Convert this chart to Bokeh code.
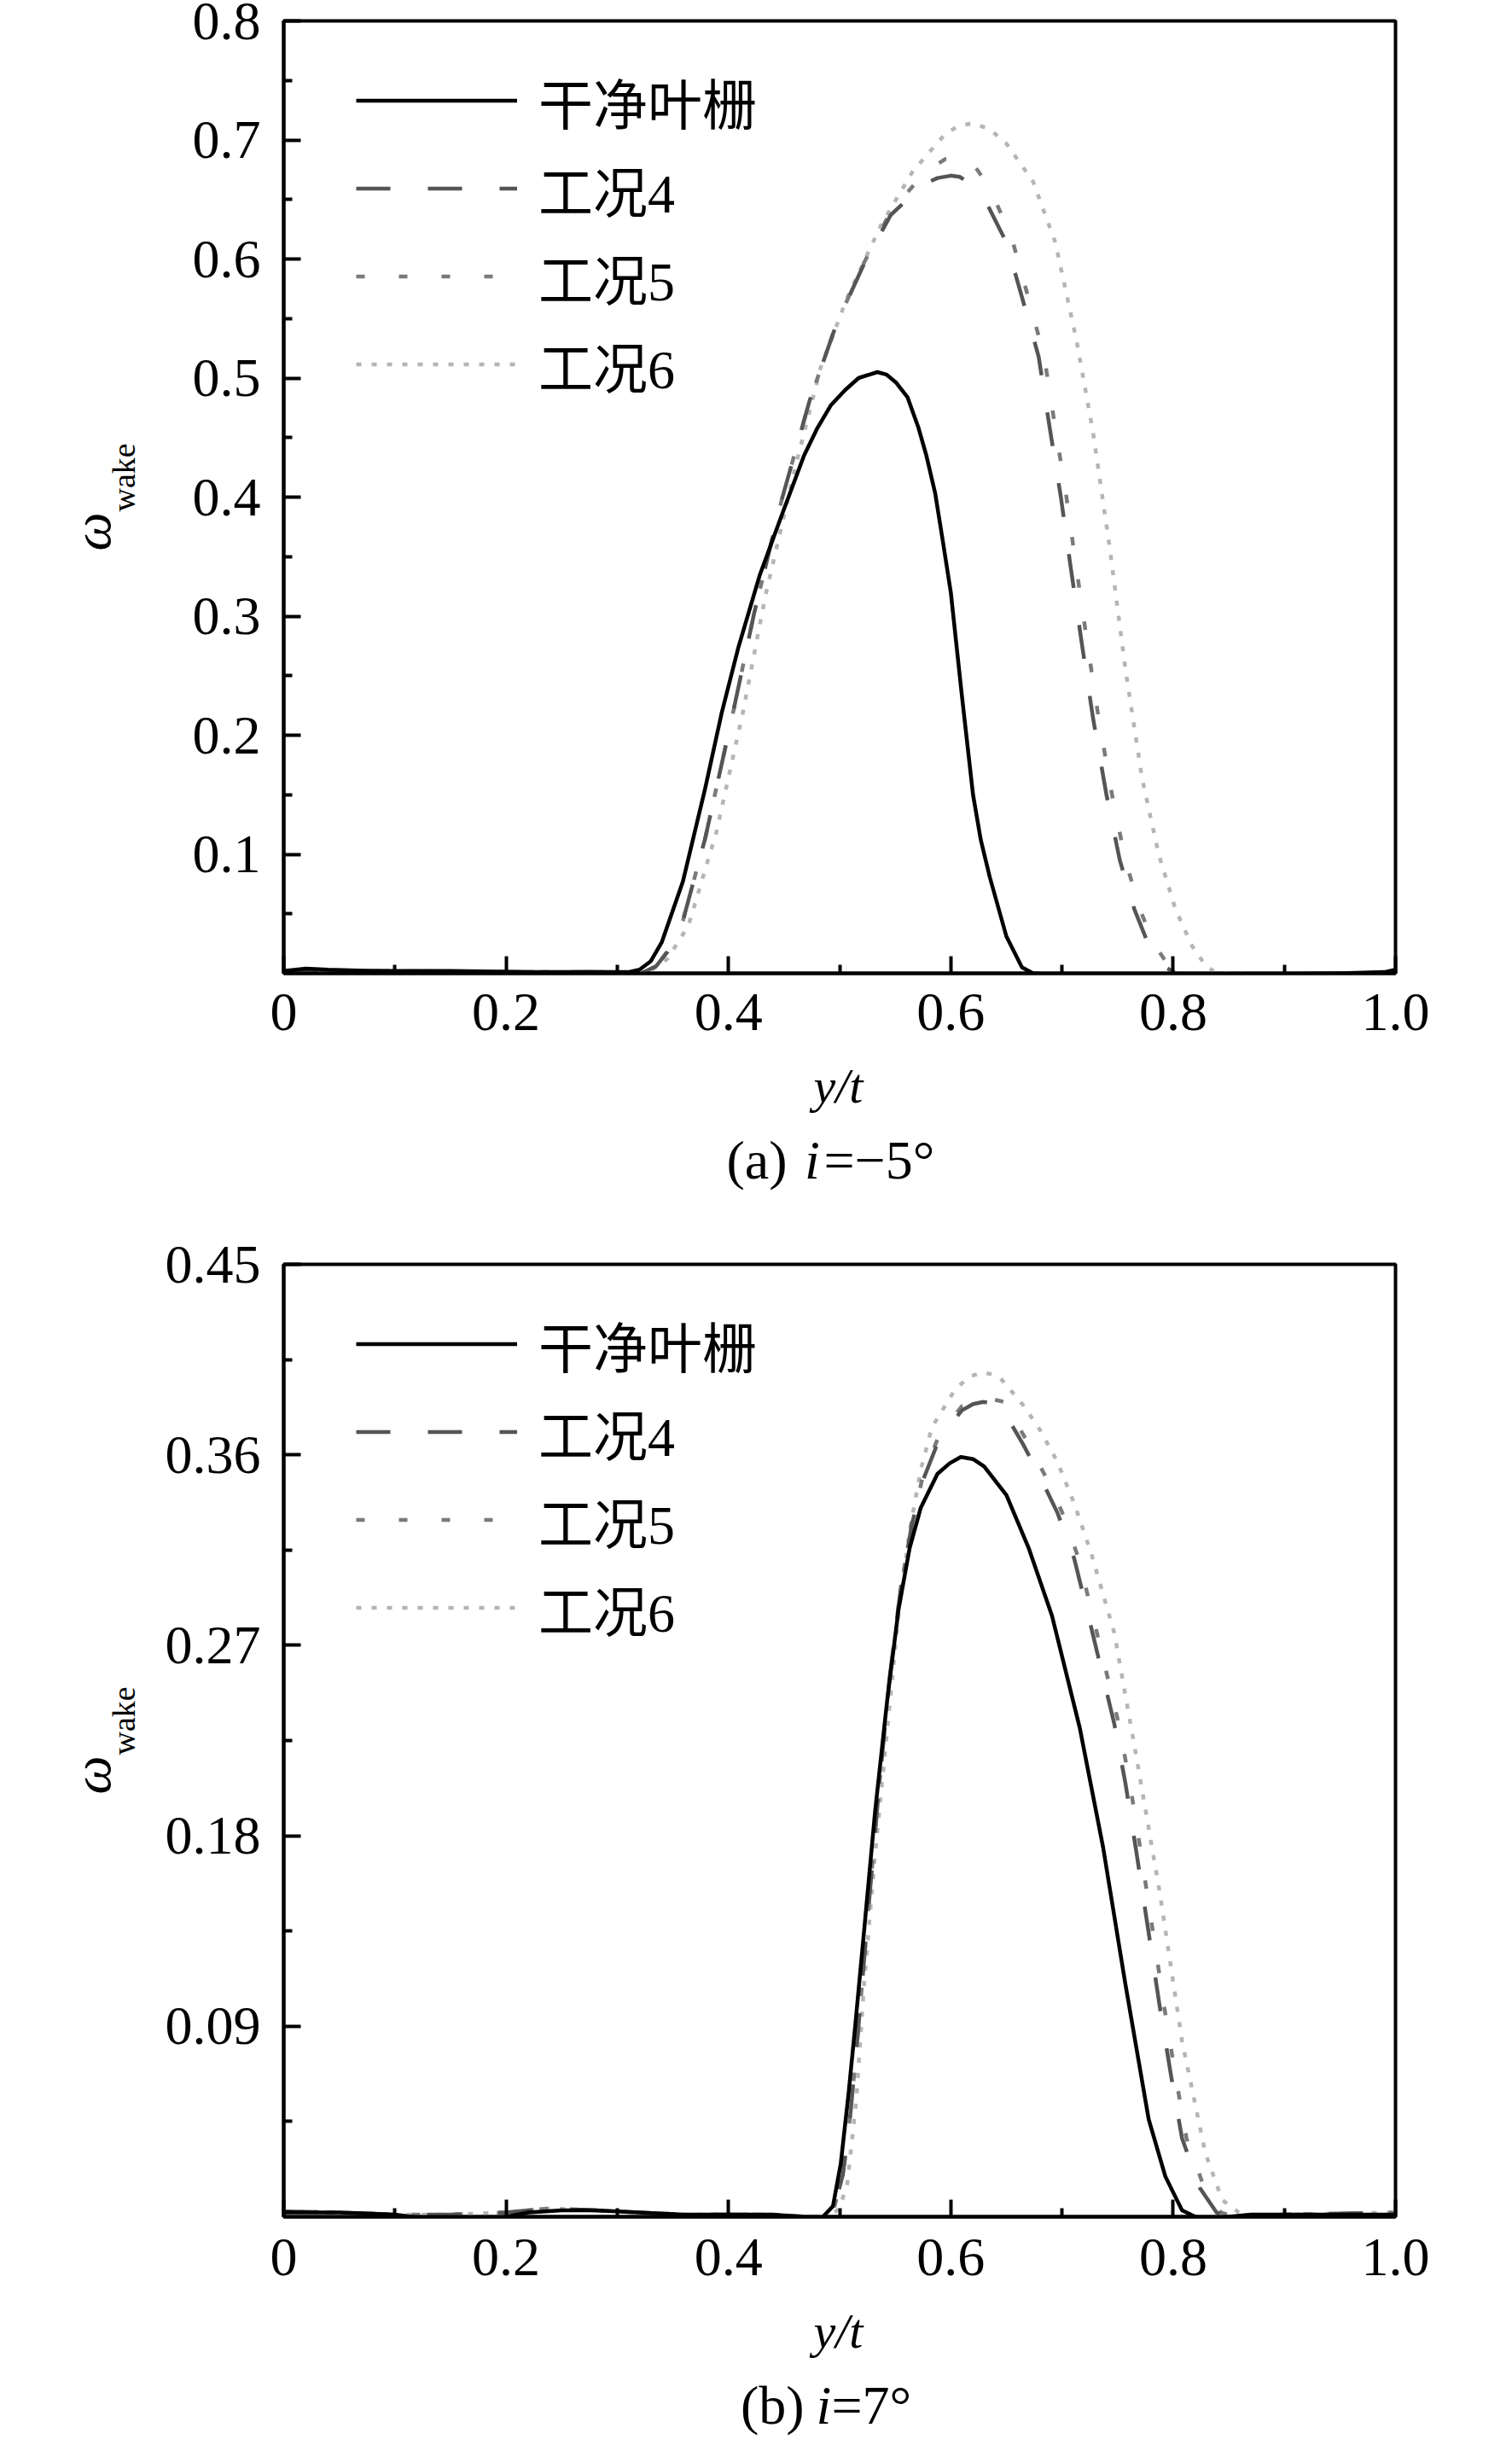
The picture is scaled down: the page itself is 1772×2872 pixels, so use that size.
import math
from bokeh.plotting import figure
from bokeh.models import (Range1d, FixedTicker, CustomJSTickFormatter, Legend,
                          LegendItem)
from bokeh.layouts import column, row
from bokeh.core.properties import value
from bokeh.embed import file_html
from bokeh.resources import INLINE

# ---------------- data ----------------
SERIES_NAMES = ["干净叶栅", "工况4", "工况5", "工况6"]

X_TICKS = [0.0, 0.2, 0.4, 0.6, 0.8, 1.0]
X_MINOR = [0.1, 0.3, 0.5, 0.7, 0.9]
A_Y_TICKS = [0.1, 0.2, 0.3, 0.4, 0.5, 0.6, 0.7, 0.8]
A_Y_MINOR = [0.05, 0.15, 0.25, 0.35, 0.45, 0.55, 0.65, 0.75]
B_Y_TICKS = [0.09, 0.18, 0.27, 0.36, 0.45]
B_Y_MINOR = [0.045, 0.135, 0.225, 0.315, 0.405]

X_LABEL = "y/t"
Y_LABEL_MAIN = "ω"
Y_LABEL_SUB = "wake"
CAPTION_A = ["(a)", "i", "=\u22125°"]
CAPTION_B = ["(b)", "i", "=7°"]

# panel (a) i = -5 deg
A_CLEAN_X = [0.0, 0.02, 0.04, 0.08, 0.15, 0.22, 0.28, 0.31, 0.32, 0.33, 0.34, 0.359, 0.379, 0.394, 0.409,
             0.428, 0.448, 0.468, 0.480, 0.492, 0.505, 0.517, 0.527, 0.534, 0.542, 0.551, 0.561, 0.571,
             0.578, 0.586, 0.593, 0.600, 0.610, 0.620, 0.627, 0.635, 0.650, 0.664, 0.674, 0.69, 0.75, 0.85,
             0.95, 0.99, 1.0]
A_CLEAN_Y = [0.002, 0.004, 0.003, 0.002, 0.002, 0.001, 0.001, 0.001, 0.003, 0.010, 0.026, 0.077, 0.155, 0.219,
             0.274, 0.334, 0.385, 0.435, 0.458, 0.477, 0.490, 0.500, 0.503, 0.505, 0.503, 0.496, 0.484, 0.458,
             0.435, 0.403, 0.362, 0.320, 0.233, 0.150, 0.112, 0.081, 0.031, 0.005, 0.000, -0.001, -0.001, -0.001,
             0.000, 0.001, 0.003]

A_C4_X = [0.0, 0.05, 0.1, 0.2, 0.3, 0.315, 0.324, 0.335, 0.345, 0.359, 0.379, 0.403, 0.423, 0.448, 0.473,
          0.497, 0.522, 0.546, 0.576, 0.588, 0.600, 0.608, 0.615, 0.630, 0.650, 0.664, 0.679, 0.689, 0.699,
          0.708, 0.718, 0.728, 0.740, 0.752, 0.765, 0.777, 0.792, 0.802, 0.82, 0.9, 1.0]
A_C4_Y = [0.002, 0.002, 0.002, 0.001, 0.001, 0.000, 0.001, 0.006, 0.018, 0.044, 0.113, 0.214, 0.302, 0.398,
          0.481, 0.545, 0.596, 0.637, 0.663, 0.668, 0.670, 0.669, 0.665, 0.651, 0.614, 0.568, 0.518, 0.458,
          0.400, 0.340, 0.276, 0.214, 0.150, 0.095, 0.054, 0.026, 0.006, 0.000, -0.001, -0.001, 0.000]

A_C5_X = [0.0, 0.05, 0.1, 0.2, 0.3, 0.315, 0.324, 0.335, 0.345, 0.359, 0.379, 0.403, 0.423, 0.448, 0.473,
          0.497, 0.522, 0.546, 0.576, 0.595, 0.607, 0.620, 0.635, 0.655, 0.669, 0.684, 0.694, 0.704, 0.713,
          0.723, 0.733, 0.745, 0.757, 0.770, 0.782, 0.796, 0.806, 0.82, 0.9, 1.0]
A_C5_Y = [0.002, 0.002, 0.002, 0.001, 0.001, 0.000, 0.001, 0.006, 0.018, 0.044, 0.113, 0.214, 0.302, 0.398,
          0.481, 0.545, 0.597, 0.640, 0.672, 0.684, 0.686, 0.680, 0.660, 0.617, 0.570, 0.518, 0.458, 0.400,
          0.340, 0.276, 0.214, 0.150, 0.095, 0.054, 0.026, 0.006, 0.000, -0.001, -0.001, 0.000]

A_C6_X = [0.0, 0.05, 0.1, 0.2, 0.3, 0.32, 0.33, 0.345, 0.364, 0.389, 0.413, 0.433, 0.458, 0.483, 0.507,
          0.537, 0.566, 0.596, 0.608, 0.620, 0.635, 0.650, 0.674, 0.694, 0.713, 0.728, 0.743, 0.757, 0.772,
          0.787, 0.802, 0.817, 0.828, 0.836, 0.845, 0.9, 1.0]
A_C6_Y = [0.002, 0.002, 0.002, 0.001, 0.001, 0.000, 0.002, 0.012, 0.040, 0.118, 0.219, 0.316, 0.417, 0.509,
          0.568, 0.628, 0.674, 0.706, 0.712, 0.714, 0.709, 0.697, 0.665, 0.614, 0.532, 0.454, 0.357, 0.256,
          0.164, 0.100, 0.054, 0.023, 0.008, 0.002, 0.000, -0.001, 0.000]

# panel (b) i = 7 deg
B_CLEAN_X = [0.0, 0.05, 0.1, 0.13, 0.16, 0.19, 0.22, 0.25, 0.28, 0.32, 0.36, 0.40, 0.44, 0.465, 0.476,
             0.485, 0.494, 0.501, 0.508, 0.514, 0.522, 0.532, 0.543, 0.553, 0.563, 0.573, 0.588, 0.599,
             0.609, 0.620, 0.630, 0.650, 0.670, 0.691, 0.716, 0.737, 0.757, 0.778, 0.793, 0.808, 0.820,
             0.83, 0.87, 0.93, 1.0]
B_CLEAN_Y = [0.002, 0.002, 0.001, -0.001, -0.002, -0.001, 0.002, 0.003, 0.003, 0.002, 0.001, 0.001, 0.001,
             0.000, -0.0024, 0.000, 0.005, 0.025, 0.058, 0.090, 0.135, 0.192, 0.245, 0.287, 0.316, 0.335,
             0.351, 0.356, 0.359, 0.358, 0.3545, 0.341, 0.316, 0.284, 0.231, 0.1745, 0.110, 0.046, 0.019,
             0.003, 0.000, -0.001, 0.001, 0.001, 0.001]

B_C4_X = [0.0, 0.05, 0.1, 0.15, 0.2, 0.24, 0.28, 0.32, 0.36, 0.40, 0.44, 0.47, 0.485, 0.495, 0.503, 0.510,
          0.517, 0.525, 0.535, 0.545, 0.555, 0.565, 0.575, 0.590, 0.610, 0.620, 0.629, 0.637, 0.645, 0.665,
          0.680, 0.696, 0.711, 0.726, 0.747, 0.757, 0.767, 0.778, 0.788, 0.798, 0.808, 0.824, 0.839, 0.85,
          0.9, 1.0]
B_C4_Y = [0.0025, 0.002, 0.001, 0.001, 0.002, 0.004, 0.003, 0.002, 0.001, 0.001, 0.001, 0.000, 0.000, 0.004,
          0.020, 0.050, 0.090, 0.140, 0.200, 0.255, 0.297, 0.327, 0.348, 0.368, 0.381, 0.384, 0.385, 0.3845,
          0.383, 0.365, 0.350, 0.3325, 0.311, 0.279, 0.233, 0.205, 0.172, 0.134, 0.099, 0.067, 0.037, 0.0136,
          0.002, 0.000, 0.001, 0.002]

B_C5_X = [0.0, 0.05, 0.1, 0.15, 0.2, 0.24, 0.28, 0.32, 0.36, 0.40, 0.44, 0.47, 0.485, 0.495, 0.503, 0.510,
          0.517, 0.525, 0.535, 0.545, 0.555, 0.565, 0.575, 0.590, 0.610, 0.631, 0.648, 0.668, 0.684, 0.700,
          0.715, 0.730, 0.751, 0.761, 0.771, 0.782, 0.792, 0.802, 0.812, 0.828, 0.843, 0.855, 0.9, 1.0]
B_C5_Y = [0.0025, 0.002, 0.001, 0.001, 0.002, 0.004, 0.003, 0.002, 0.001, 0.001, 0.001, 0.000, 0.000, 0.004,
          0.020, 0.050, 0.090, 0.140, 0.200, 0.255, 0.297, 0.328, 0.350, 0.370, 0.383, 0.387, 0.385, 0.367,
          0.351, 0.333, 0.311, 0.279, 0.233, 0.205, 0.172, 0.134, 0.099, 0.067, 0.037, 0.0136, 0.002, 0.000,
          0.001, 0.002]

B_C6_X = [0.0, 0.05, 0.1, 0.15, 0.2, 0.24, 0.28, 0.32, 0.36, 0.40, 0.44, 0.47, 0.49, 0.50, 0.507, 0.515,
          0.522, 0.532, 0.543, 0.553, 0.563, 0.573, 0.583, 0.604, 0.617, 0.629, 0.637, 0.645, 0.665, 0.680,
          0.696, 0.711, 0.726, 0.747, 0.767, 0.788, 0.808, 0.829, 0.844, 0.859, 0.87, 0.9, 1.0]
B_C6_Y = [0.0025, 0.002, 0.001, 0.001, 0.002, 0.004, 0.003, 0.002, 0.001, 0.001, 0.001, 0.000, 0.000, 0.004,
          0.016, 0.055, 0.110, 0.172, 0.231, 0.285, 0.324, 0.353, 0.373, 0.391, 0.397, 0.399, 0.398, 0.396,
          0.3835, 0.372, 0.3566, 0.337, 0.314, 0.276, 0.217, 0.153, 0.083, 0.030, 0.008, 0.002, 0.000, 0.001,
          0.002]

# ---------------- style / layout ----------------
SERIF = "Liberation Serif"
LEGEND_FONT = "Liberation Serif, Noto Sans CJK SC"
COLORS = ["#000000", "#555555", "#7a7a7a", "#b5b5b5"]
DASHES = ["solid", "40 44", "10 40", "6 12"]
LINE_W = 4.5
MID = 0.3375                      # baseline sits this many em below a "middle"-anchored text

PAGE_W = 1756
SIDE_W = 180                      # strip left of each plot for the y label
FRAME_W, FRAME_H = 1303, 1116
B_LEFT, B_RIGHT = 152, 121


def blank(width, height):
    f = figure(width=width, height=height, min_border=0, title=None,
               x_range=Range1d(0, width), y_range=Range1d(0, height),
               x_axis_location=None, y_axis_location=None,
               output_backend="svg", toolbar_location=None)
    f.grid.visible = False
    f.outline_line_color = None
    f.background_fill_color = "white"
    f.border_fill_color = "white"
    return f


def make_main(series, y_max, y_ticks, y_minor, y_digits, tick_standoff, b_top, b_bottom):
    p = figure(frame_width=FRAME_W, frame_height=FRAME_H, title=None,
               min_border_left=B_LEFT, min_border_right=B_RIGHT,
               min_border_top=b_top, min_border_bottom=b_bottom,
               x_range=Range1d(0, 1), y_range=Range1d(0, y_max),
               output_backend="svg", toolbar_location=None)
    p.xgrid.visible = False
    p.ygrid.visible = False
    p.background_fill_color = "white"
    p.border_fill_color = "white"
    p.outline_line_color = "black"
    p.outline_line_width = 4

    for ax in (p.xaxis[0], p.yaxis[0]):
        ax.axis_line_color = "black"
        ax.axis_line_width = 4
        ax.major_tick_in = 20
        ax.major_tick_out = 0
        ax.minor_tick_in = 10
        ax.minor_tick_out = 0
        ax.major_tick_line_width = 4
        ax.minor_tick_line_width = 4
        ax.major_tick_line_color = "black"
        ax.minor_tick_line_color = "black"
        ax.major_label_text_font = SERIF
        ax.major_label_text_font_size = "64px"
        ax.major_label_text_color = "black"

    p.xaxis.ticker = FixedTicker(ticks=X_TICKS, minor_ticks=X_MINOR)
    p.xaxis.formatter = CustomJSTickFormatter(
        code="return Math.abs(tick) < 1e-9 ? '0' : tick.toFixed(1);")
    p.xaxis.major_label_standoff = tick_standoff

    p.yaxis.ticker = FixedTicker(ticks=y_ticks, minor_ticks=y_minor)
    p.yaxis.formatter = CustomJSTickFormatter(
        code="return tick.toFixed(%d);" % y_digits)
    p.yaxis.major_label_standoff = 27

    rends = {}
    for k in [3, 2, 1, 0]:
        xs, ys = series[k]
        rends[k] = p.line(xs, ys, line_color=COLORS[k], line_width=LINE_W,
                          line_dash=DASHES[k], line_join="round")
    items = [LegendItem(label=SERIES_NAMES[k], renderers=[rends[k]]) for k in range(4)]
    legend = Legend(items=items, location=(85, 662), glyph_width=189,
                    glyph_height=103, label_height=103, spacing=0, padding=0,
                    margin=0, label_standoff=25, label_text_font=LEGEND_FONT,
                    label_text_font_size="64px", label_text_color="black",
                    border_line_alpha=0, background_fill_alpha=0)
    p.add_layout(legend)
    return p


def make_side(b_top, b_bottom):
    # same vertical borders as the plot, so its frame lines up with the plot frame
    s = figure(frame_width=SIDE_W, frame_height=FRAME_H, title=None,
               min_border_left=0, min_border_right=0,
               min_border_top=b_top, min_border_bottom=b_bottom,
               x_range=Range1d(0, SIDE_W), y_range=Range1d(0, FRAME_H),
               x_axis_location=None, y_axis_location=None,
               output_backend="svg", toolbar_location=None)
    s.grid.visible = False
    s.outline_line_color = None
    s.background_fill_color = "white"
    s.border_fill_color = "white"
    # rotated text: its baseline is at x = 129 (omega) and 157 (subscript)
    s.text(x=[129 - MID * 64], y=[495], text=[Y_LABEL_MAIN], angle=math.pi / 2,
           text_font=value(SERIF), text_font_style=value("italic"),
           text_font_size=value("64px"), text_align=value("left"),
           text_baseline=value("middle"), text_color="black")
    s.text(x=[157 - MID * 38], y=[541], text=[Y_LABEL_SUB], angle=math.pi / 2,
           text_font=value(SERIF), text_font_size=value("38px"),
           text_align=value("left"), text_baseline=value("middle"),
           text_color="black")
    return s


def make_caption(height, xlabel_base, cap_base, cap_parts, cap_x):
    # *_base: distance of the text baseline below the top of this strip
    c = blank(PAGE_W, height)
    c.text(x=[982], y=[height - xlabel_base + MID * 58], text=[X_LABEL],
           text_font=value(SERIF), text_font_style=value("italic"),
           text_font_size=value("58px"), text_align=value("center"),
           text_baseline=value("middle"), text_color="black")
    cy = height - cap_base + MID * 64
    c.text(x=[cap_x[0]], y=[cy], text=[cap_parts[0]], text_font=value(SERIF),
           text_font_size=value("64px"), text_align=value("right"),
           text_baseline=value("middle"), text_color="black")
    c.text(x=[cap_x[1]], y=[cy], text=[cap_parts[1]], text_font=value(SERIF),
           text_font_style=value("italic"), text_font_size=value("64px"),
           text_align=value("center"), text_baseline=value("middle"),
           text_color="black")
    c.text(x=[cap_x[2]], y=[cy], text=[cap_parts[2]], text_font=value(SERIF),
           text_font_size=value("64px"), text_align=value("left"),
           text_baseline=value("middle"), text_color="black")
    return c


series_a = [(A_CLEAN_X, A_CLEAN_Y), (A_C4_X, A_C4_Y), (A_C5_X, A_C5_Y), (A_C6_X, A_C6_Y)]
series_b = [(B_CLEAN_X, B_CLEAN_Y), (B_C4_X, B_C4_Y), (B_C5_X, B_C5_Y), (B_C6_X, B_C6_Y)]

A_TOP, A_BOTTOM = 24, 99
B_TOP, B_BOTTOM = 35, 100
MAIN_A_H = A_TOP + FRAME_H + A_BOTTOM
MAIN_B_H = B_TOP + FRAME_H + B_BOTTOM

main_a = make_main(series_a, 0.8, A_Y_TICKS, A_Y_MINOR, 1, 24, A_TOP, A_BOTTOM)
main_b = make_main(series_b, 0.45, B_Y_TICKS, B_Y_MINOR, 2, 26, B_TOP, B_BOTTOM)

# panel (b) frame starts 1457 px below panel (a) frame
CAP_A_H = A_TOP + 1457 - MAIN_A_H - B_TOP
CAP_B_H = 2856 - MAIN_A_H - CAP_A_H - MAIN_B_H
cap_a = make_caption(CAP_A_H, 53, 142, CAPTION_A, [922, 951.5, 965])
cap_b = make_caption(CAP_B_H, 54, 143, CAPTION_B, [942, 965, 974])

layout = column(row(make_side(A_TOP, A_BOTTOM), main_a, spacing=0), cap_a,
                row(make_side(B_TOP, B_BOTTOM), main_b, spacing=0), cap_b, spacing=0)
open("out.html", "w").write(file_html(layout, INLINE, "wake"))
